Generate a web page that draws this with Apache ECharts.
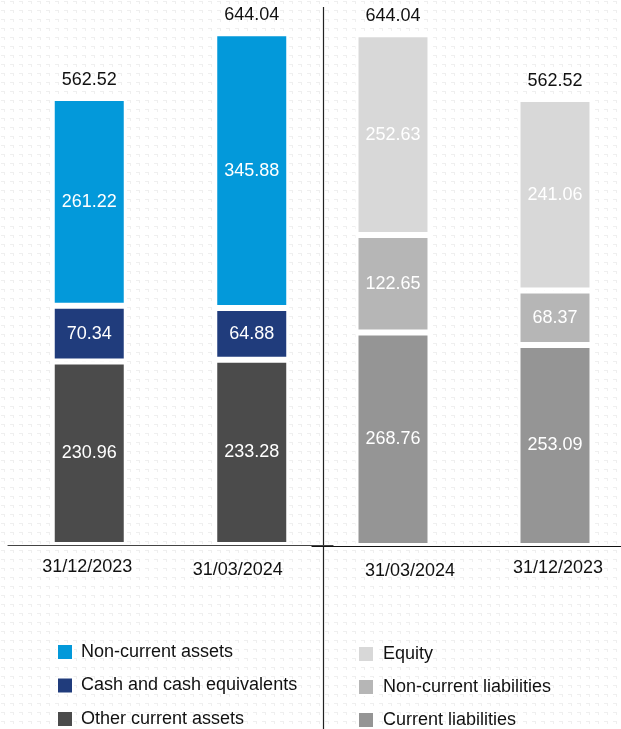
<!DOCTYPE html>
<html>
<head>
<meta charset="utf-8">
<script src="https://cdn.jsdelivr.net/npm/echarts@6/dist/echarts.min.js"></script>
<style>
html,body{margin:0;padding:0;background:#fff;}
#chart{width:621px;height:729px;}
</style>
</head>
<body>
<div id="chart"></div>
<script>
// ---- Data ----
var assetCategories = ['31/12/2023', '31/03/2024'];
var liabCategories = ['31/03/2024', '31/12/2023'];

var otherCurrentAssets = [230.96, 233.28];
var cashEquivalents = [70.34, 64.88];
var nonCurrentAssets = [261.22, 345.88];
var assetTotals = [562.52, 644.04];

var currentLiabilities = [268.76, 253.09];
var nonCurrentLiabilities = [122.65, 68.37];
var equity = [252.63, 241.06];
var liabTotals = [644.04, 562.52];

// ---- Style ----
var FONT = 'Liberation Sans, Arial, sans-serif';
var C = {
  nca: '#0399da', cash: '#203c7c', oca: '#4b4b4b',
  eq: '#d8d8d8', ncl: '#b6b6b6', cl: '#959595'
};

// background pattern
var tile = document.createElement('canvas');
tile.width = 9; tile.height = 9;
var tc = tile.getContext('2d');
tc.fillStyle = '#ffffff'; tc.fillRect(0, 0, 9, 9);
tc.fillStyle = '#efefef';
tc.fillRect(1, 1, 4, 1);
tc.fillRect(4, 1, 1, 3);

var chart = echarts.init(document.getElementById('chart'), null, {renderer: 'canvas'});

var BW = 75, BORDER = 3;

function segLabel() {
  return {show: true, position: 'inside', color: '#ffffff', fontFamily: FONT, fontSize: 18,
    formatter: function (p) { return p.value.toFixed(2); }};
}
function seg(name, data, color, axisIdx) {
  return {
    name: name, type: 'bar', stack: 's' + axisIdx, xAxisIndex: axisIdx, yAxisIndex: axisIdx,
    data: data, barWidth: BW,
    itemStyle: {color: color, borderColor: '#ffffff', borderWidth: BORDER},
    label: segLabel(), emphasis: {disabled: true}
  };
}
function totalSeries(totals, axisIdx) {
  return {
    name: 'total' + axisIdx, type: 'bar', stack: 's' + axisIdx, xAxisIndex: axisIdx, yAxisIndex: axisIdx,
    data: totals.map(function () { return 0; }), barWidth: BW,
    itemStyle: {color: 'transparent', borderWidth: 0},
    label: {show: true, position: 'top', distance: 9, color: '#111111', fontFamily: FONT, fontSize: 18,
      formatter: function (p) { return totals[p.dataIndex].toFixed(2); }},
    emphasis: {disabled: true}, silent: true
  };
}

var labelRich = {
  c0: {fontFamily: FONT, fontSize: 18, color: '#111', padding: [0, 4, 0, 0]},
  c1: {fontFamily: FONT, fontSize: 18, color: '#111', padding: [3, 28, 0, 0]},
  d0: {fontFamily: FONT, fontSize: 18, color: '#111', padding: [3, 0, 0, 34]},
  d1: {fontFamily: FONT, fontSize: 18, color: '#111', padding: [0, 0, 0, 6]}
};

var option = {
  backgroundColor: {image: tile, repeat: 'repeat'},
  animation: false,
  grid: [
    {left: 8, width: 325, top: 0, bottom: 184, containLabel: false, outerBoundsMode: 'none'},
    {left: 312, width: 324, top: 1, bottom: 183, containLabel: false, outerBoundsMode: 'none'}
  ],
  xAxis: [
    {type: 'category', gridIndex: 0, data: assetCategories,
      axisLine: {lineStyle: {color: '#444444', width: 1.2}}, axisTick: {show: false},
      axisLabel: {margin: 13, formatter: function (v, i) { return '{c' + i + '|' + v + '}'; }, rich: labelRich}},
    {type: 'category', gridIndex: 1, data: liabCategories,
      axisLine: {lineStyle: {color: '#111111', width: 1.2}}, axisTick: {show: false},
      axisLabel: {margin: 13, formatter: function (v, i) { return '{d' + i + '|' + v + '}'; }, rich: labelRich}}
  ],
  yAxis: [
    {type: 'value', gridIndex: 0, min: 0, max: 686, show: false, splitLine: {show: false}},
    {type: 'value', gridIndex: 1, min: 0, max: 686, show: false, splitLine: {show: false}}
  ],
  legend: [
    {orient: 'vertical', left: 56, top: 643, height: 120, padding: 0, itemWidth: 16, itemHeight: 16, itemGap: 15.5,
      icon: 'rect', selectedMode: false,
      data: ['Non-current assets', 'Cash and cash equivalents', 'Other current assets'],
      textStyle: {fontFamily: FONT, fontSize: 18, color: '#111', lineHeight: 18, padding: [0, 0, 0, 3]}},
    {orient: 'vertical', left: 357, top: 645, height: 120, padding: 0, itemWidth: 16, itemHeight: 16, itemGap: 15,
      icon: 'rect', selectedMode: false,
      data: ['Equity', 'Non-current liabilities', 'Current liabilities'],
      textStyle: {fontFamily: FONT, fontSize: 18, color: '#111', lineHeight: 18, padding: [0, 0, 0, 4]}}
  ],
  graphic: [
    {type: 'line', shape: {x1: 323.5, y1: 7, x2: 323.5, y2: 729}, style: {stroke: '#222222', lineWidth: 1.2}, silent: true}
  ],
  series: [
    seg('Other current assets', otherCurrentAssets, C.oca, 0),
    seg('Cash and cash equivalents', cashEquivalents, C.cash, 0),
    seg('Non-current assets', nonCurrentAssets, C.nca, 0),
    totalSeries(assetTotals, 0),
    seg('Current liabilities', currentLiabilities, C.cl, 1),
    seg('Non-current liabilities', nonCurrentLiabilities, C.ncl, 1),
    seg('Equity', equity, C.eq, 1),
    totalSeries(liabTotals, 1)
  ]
};
chart.setOption(option);
</script>
</body>
</html>
